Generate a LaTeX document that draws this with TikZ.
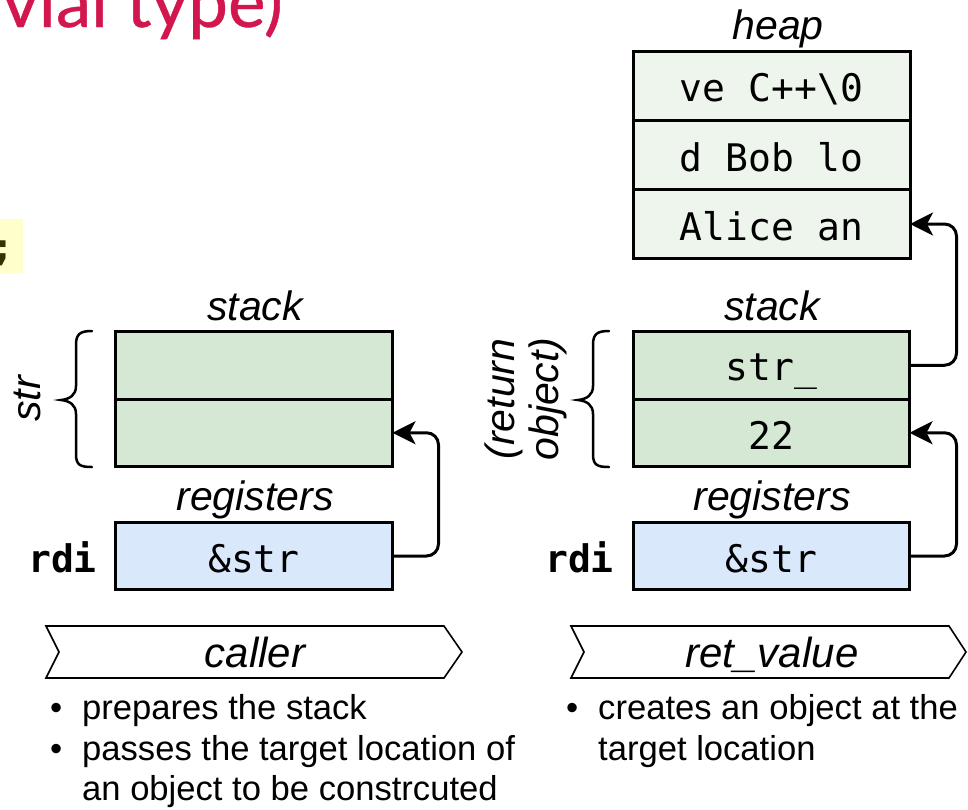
\documentclass[tikz,border=0pt]{standalone}
\usepackage{fontspec}
\setmainfont{Liberation Sans}
\setmonofont{DejaVu Sans Mono}
\newfontfamily\titlefont[FakeBold=0.6]{Lato}
\usetikzlibrary{arrows.meta}
\definecolor{stackgreen}{HTML}{D5E8D4}
\definecolor{regblue}{HTML}{DAE8FC}
\definecolor{heapgreen}{HTML}{EEF5EC}
\definecolor{titlered}{HTML}{D2174F}
\definecolor{hlyellow}{HTML}{FFFFCC}
\definecolor{codeolive}{HTML}{333300}
\begin{document}
\begin{tikzpicture}[x=1pt,y=-1pt,
  cellbox/.style={draw=black, line width=3pt, minimum width=277pt, minimum height=67.5pt,
    inner sep=0pt, outer sep=0pt},
  stackcell/.style={cellbox, fill=stackgreen},
  heapcell/.style={cellbox, fill=heapgreen, minimum height=69pt},
  regcell/.style={cellbox, fill=regblue, minimum height=67pt},
  codetext/.style={anchor=base, inner sep=0pt, font=\fontsize{38}{44}\selectfont\ttfamily},
  regname/.style={anchor=base east, inner sep=0pt, font=\fontsize{38}{44}\selectfont\ttfamily\bfseries},
  lbl/.style={anchor=base, inner sep=0pt, font=\fontsize{41}{45}\selectfont\itshape},
  conn/.style={line width=3pt, rounded corners=12pt, -{Stealth[length=23pt,width=23pt,inset=6pt]}},
  bracestyle/.style={line width=2.5pt, line cap=round},
  chevron/.style={line width=1.6pt, line join=miter},
  bullettext/.style={anchor=base west, inner sep=0pt, font=\fontsize{34.6}{41}\selectfont}
]
\useasboundingbox (0,0) rectangle (968,809);
\clip (0,0) rectangle (968,809);

% title fragment
\node[anchor=base west, inner sep=0pt, font=\titlefont\fontsize{71}{80}\selectfont, text=titlered] (title) at (2,27) {vial type)};

% yellow code highlight
\fill[hlyellow] (0,219) rectangle (23,273);
\node[anchor=base east, inner sep=0pt, font=\fontsize{38}{44}\selectfont\ttfamily\bfseries, text=codeolive] (semi) at (15,260) {;};

% ---------- left panel ----------
\node[lbl] (lstacklbl) at (255,320) {stack};
\node[stackcell] (lst1) at (254,365.25) {};
\node[stackcell] (lst2) at (254,432.75) {};
\node[lbl] (lreglbl) at (255,510) {registers};
\node[regcell] (lreg) at (254,556) {};
\node[codetext] (lregtxt) at (254,572) {\&str};
\node[regname] (lrdi) at (97,572) {rdi};
\draw[bracestyle] (92,331) .. controls (80,331) and (76,334) .. (76,345) -- (76,386)
  .. controls (76,395) and (70,399) .. (61,400) .. controls (70,401) and (76,405) .. (76,414)
  -- (76,454) .. controls (76,465) and (80,467) .. (92,467);
\node[lbl, anchor=center, rotate=90] (lstr) at (27,399) {str};
\draw[conn] (lreg.east) -- ++(46,0) |- (lst2.east);

% ---------- right panel ----------
\node[lbl] (heaplbl) at (778,39) {heap};
\node[heapcell] (heap1) at (771.5,86) {};
\node[heapcell] (heap2) at (771.5,155) {};
\node[heapcell] (heap3) at (771.5,224) {};
\node[codetext] (h1txt) at (771.5,101) {ve C++\textbackslash0};
\node[codetext] (h2txt) at (771.5,171) {d Bob lo};
\node[codetext] (h3txt) at (771.5,240) {Alice an};

\node[lbl] (rstacklbl) at (772,320) {stack};
\node[stackcell, minimum width=276pt] (rst1) at (771.5,365.25) {};
\node[stackcell, minimum width=276pt] (rst2) at (771.5,432.75) {};
\node[codetext] (rst1txt) at (771.5,380) {str\_};
\node[codetext] (rst2txt) at (771.5,449) {22};
\node[lbl] (rreglbl) at (772,510) {registers};
\node[regcell, minimum width=276pt] (rreg) at (771.5,556) {};
\node[codetext] (rregtxt) at (771.5,572) {\&str};
\node[regname] (rrdi) at (614,572) {rdi};
\draw[bracestyle] (609,331) .. controls (597,331) and (593,334) .. (593,345) -- (593,386)
  .. controls (593,395) and (587,399) .. (578,400) .. controls (587,401) and (593,405) .. (593,414)
  -- (593,454) .. controls (593,465) and (597,467) .. (609,467);
\node[lbl, anchor=center, rotate=90, align=center, font=\fontsize{41}{44}\selectfont\itshape] (retobj) at (526,399) {(return\\object)};
\draw[conn] (rreg.east) -- ++(47,0) |- (rst2.east);
\draw[conn] (rst1.east) -- ++(47,0) |- (heap3.east);

% ---------- bottom ----------
\draw[chevron] (46,626) -- (444,626) -- (462,652) -- (444,678) -- (46,678) -- (59,652) -- cycle;
\node[lbl, font=\fontsize{42}{46}\selectfont\itshape] (caller) at (255,667) {caller};
\draw[chevron] (571,626) -- (949,626) -- (966,652) -- (949,678) -- (571,678) -- (584,652) -- cycle;
\node[lbl, font=\fontsize{42}{46}\selectfont\itshape] (retval) at (772,667) {ret\_value};

\node[bullettext] (b1) at (50,719) {•};
\node[bullettext] (t1) at (82,719) {prepares the stack};
\node[bullettext] (b2) at (50,760) {•};
\node[bullettext] (t2) at (82,760) {passes the target location of};
\node[bullettext] (t3) at (82,800) {an object to be constrcuted};
\node[bullettext] (b3) at (566,719) {•};
\node[bullettext] (t4) at (598,719) {creates an object at the};
\node[bullettext] (t5) at (598,760) {target location};
\end{tikzpicture}
\end{document}
